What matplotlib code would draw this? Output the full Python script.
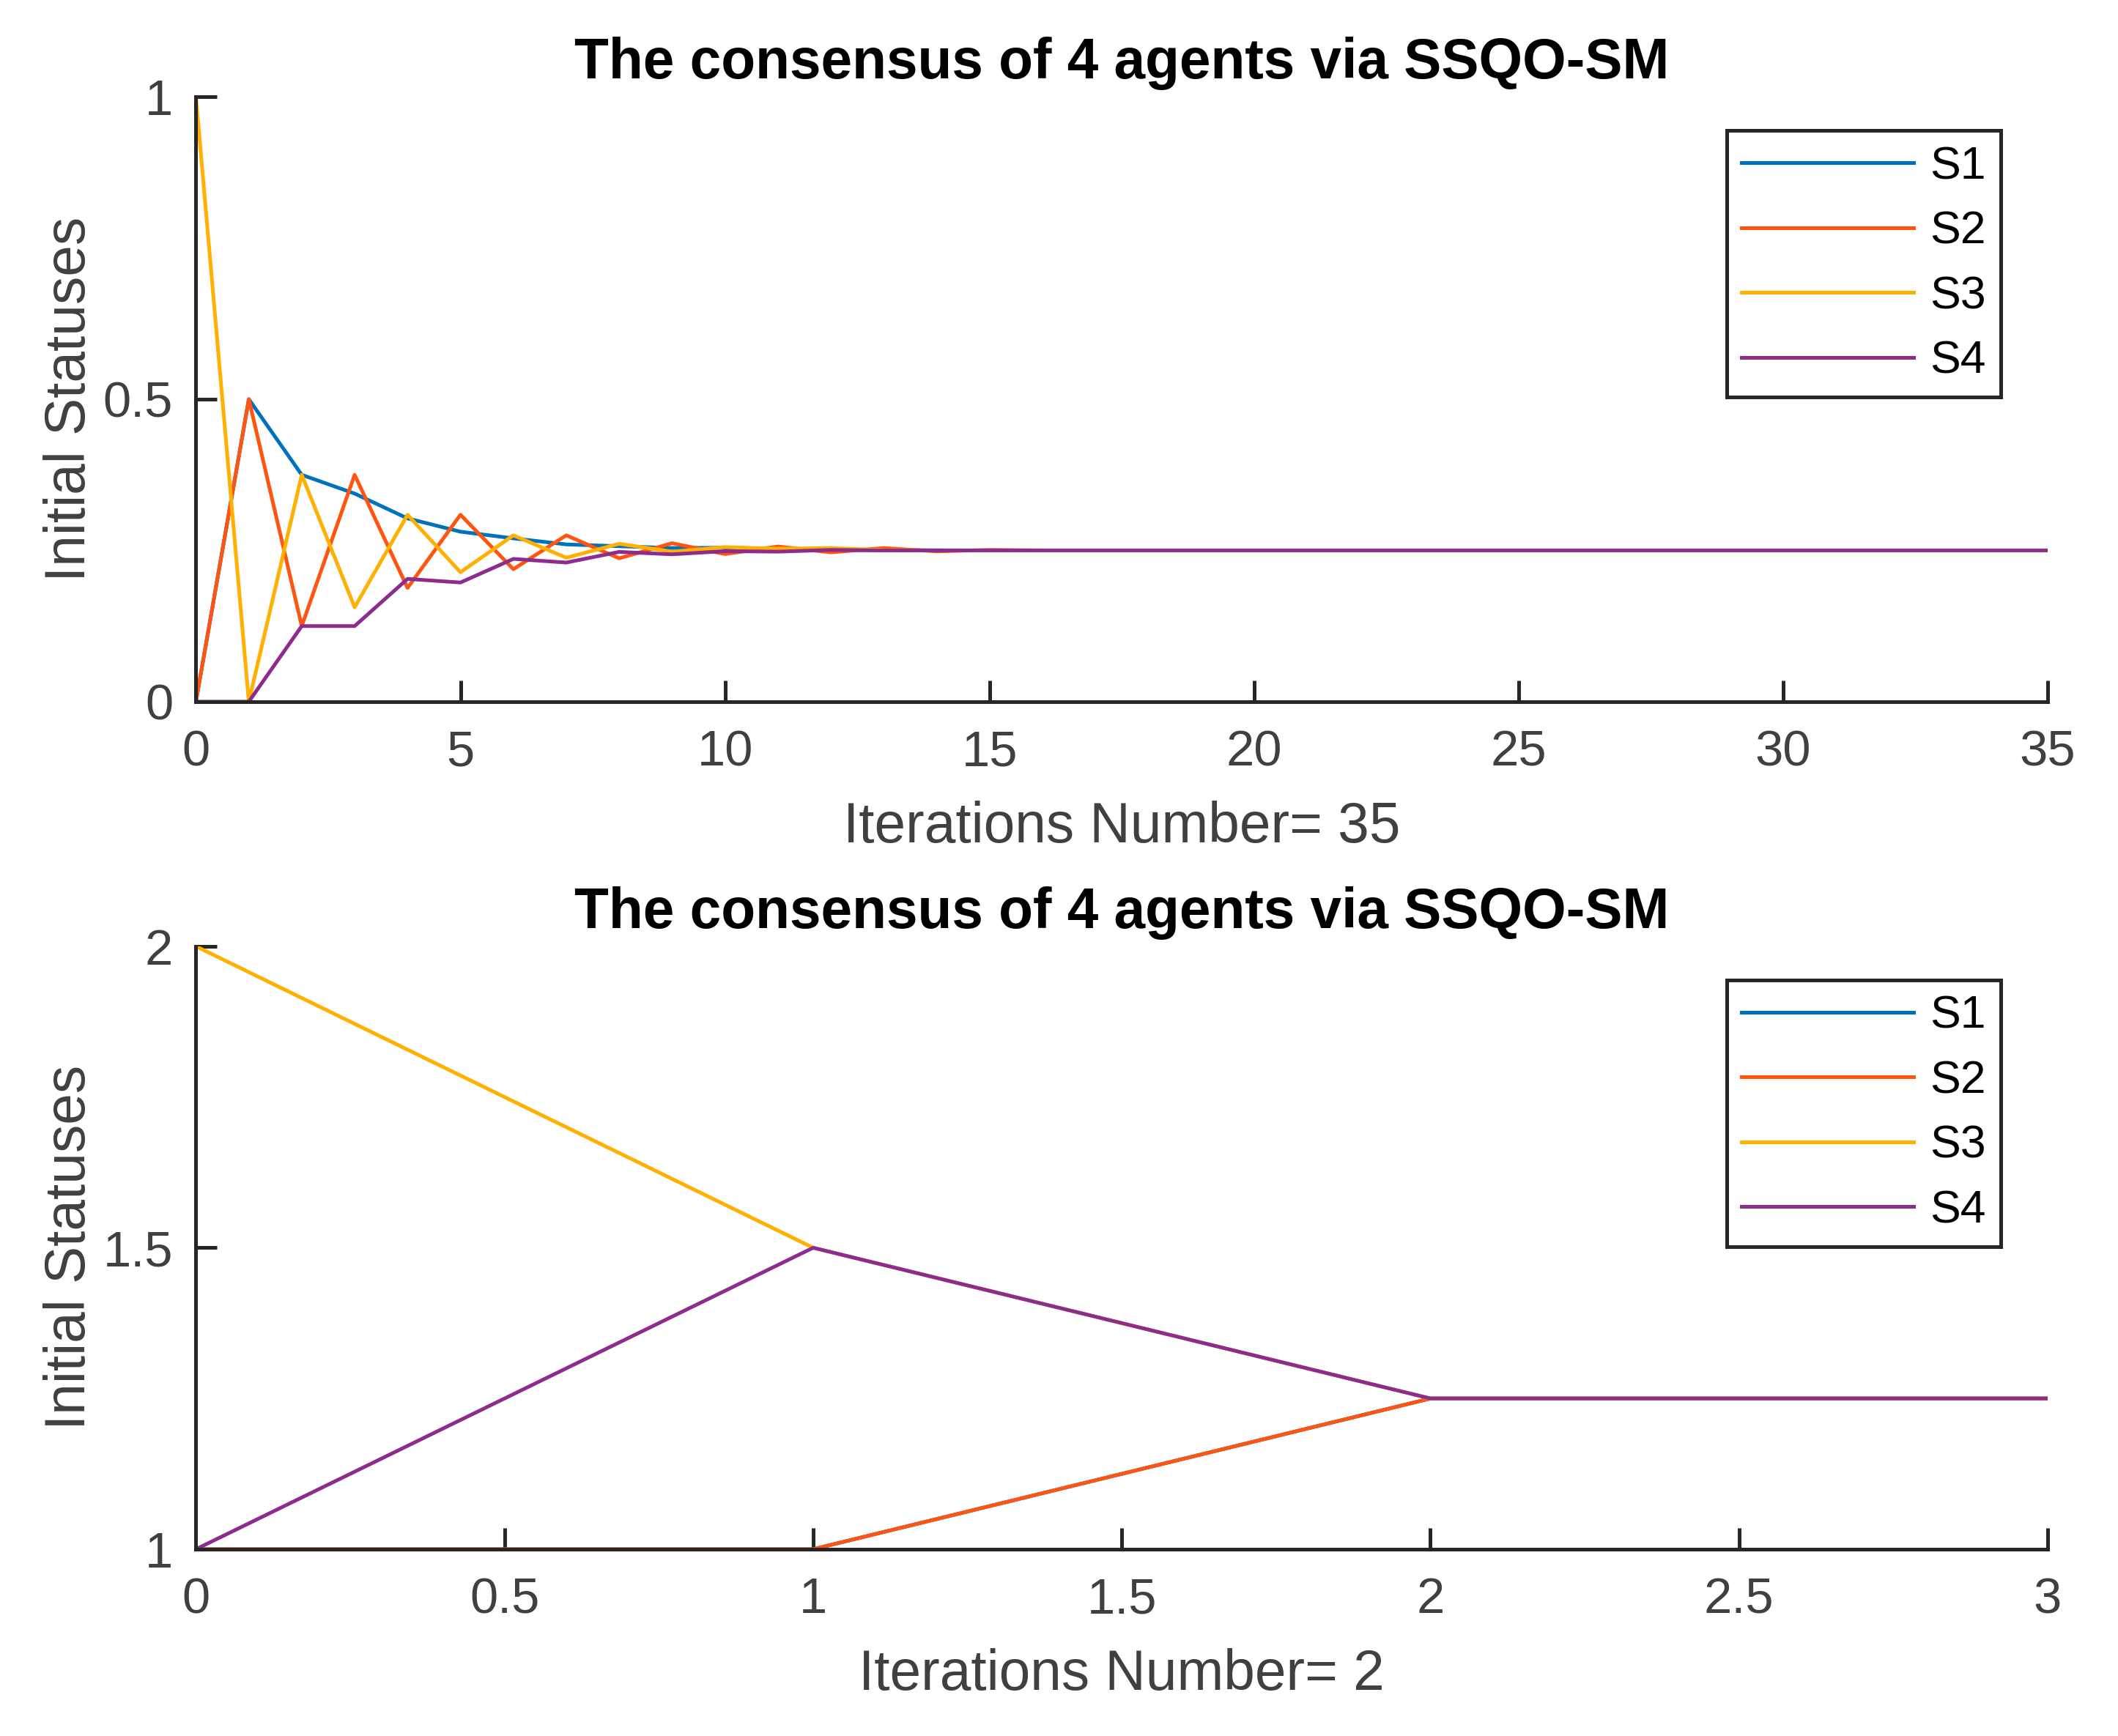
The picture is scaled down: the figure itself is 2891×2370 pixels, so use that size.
import matplotlib
matplotlib.use('Agg')
import matplotlib.pyplot as plt
import numpy as np

plt.rcParams['font.family'] = ['Liberation Sans', 'DejaVu Sans']

# 数据 - top run, 35 iterations
iters_top = np.arange(36)
s1_top = [0, 0.5, 0.375, 0.344, 0.303, 0.281, 0.270, 0.260, 0.257, 0.254, 0.2545, 0.2525,
          0.2515, 0.2505, 0.2502] + [0.25] * 21
s2_top = [0, 0.5, 0.125, 0.375, 0.188, 0.309, 0.219, 0.275, 0.237, 0.262, 0.244, 0.2565,
          0.2468, 0.254, 0.2485, 0.2508] + [0.25] * 20
s3_top = [1, 0, 0.375, 0.156, 0.309, 0.214, 0.275, 0.238, 0.261, 0.248, 0.2555, 0.2528,
          0.254, 0.2505] + [0.25] * 22
s4_top = [0, 0, 0.125, 0.125, 0.203, 0.197, 0.236, 0.230, 0.2476, 0.2436, 0.2488, 0.248,
          0.2508] + [0.25] * 23

# bottom run, 2 iterations
iters_bot = [0, 1, 2, 3]
s1_bot = [1, 1, 1.25, 1.25]
s2_bot = [1, 1, 1.25, 1.25]
s3_bot = [2, 1.5, 1.25, 1.25]
s4_bot = [1, 1.5, 1.25, 1.25]

labels = ['S1', 'S2', 'S3', 'S4']
colors = ['#0072BD', '#FF5511', '#FFB000', '#8E2C8E']
axcol = '#262626'
tickcol = '#404040'

fig = plt.figure(figsize=(2891 / 300, 2370 / 300), dpi=300)
ax1 = fig.add_axes([0.0925, 0.5958, 0.8743, 0.3485])
ax2 = fig.add_axes([0.0925, 0.1076, 0.8743, 0.3473])


def style(ax, xs, series, xlim, ylim, yticks, xticks, xlabel):
    for ys, c, lab in zip(series, colors, labels):
        ax.plot(xs, ys, color=c, lw=1.2, label=lab)
    ax.set_xlim(xlim)
    ax.set_ylim(ylim)
    ax.set_xticks(xticks)
    ax.set_yticks(yticks)
    ax.set_xticklabels([('%g' % t) for t in xticks])
    ax.set_yticklabels([('%g' % t) for t in yticks])
    for s in ['top', 'right']:
        ax.spines[s].set_visible(False)
    for s in ['left', 'bottom']:
        ax.spines[s].set_color(axcol)
        ax.spines[s].set_linewidth(1.2)
    ax.tick_params(direction='in', length=7, width=1.2, colors=axcol, labelcolor=tickcol,
                   labelsize=16.5)
    ax.tick_params(axis='x', pad=9)
    ax.tick_params(axis='y', pad=7.5)
    ax.set_xlabel(xlabel, fontsize=18.4, color=tickcol, labelpad=8)
    ax.set_ylabel('Initial Statuses', fontsize=18.4, color=tickcol, labelpad=2)
    ax.set_title('The consensus of 4 agents via SSQO-SM', fontsize=18.4, fontweight='bold', pad=6)
    leg = ax.legend(loc='upper right', bbox_to_anchor=(0.9745, 0.944), borderaxespad=0,
                    fontsize=15, fancybox=False, framealpha=1, edgecolor=axcol,
                    handlelength=3.76, handletextpad=0.35, labelspacing=0.47, borderpad=0.32)
    leg.get_frame().set_linewidth(1.2)


style(ax1, iters_top, [s1_top, s2_top, s3_top, s4_top], (0, 35), (0, 1),
      [0, 0.5, 1], np.arange(0, 36, 5), 'Iterations Number= 35')
style(ax2, iters_bot, [s1_bot, s2_bot, s3_bot, s4_bot], (0, 3), (1, 2),
      [1, 1.5, 2], [0, 0.5, 1, 1.5, 2, 2.5, 3], 'Iterations Number= 2')

fig.savefig('out.png', dpi=300)
